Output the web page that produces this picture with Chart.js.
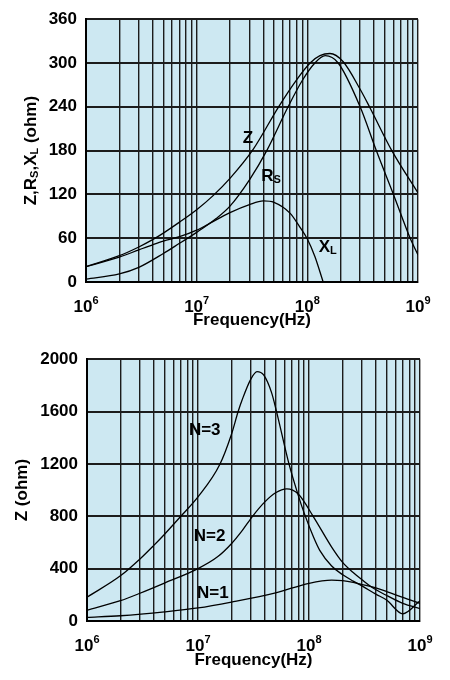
<!DOCTYPE html>
<html>
<head>
<meta charset="utf-8">
<script src="https://cdn.jsdelivr.net/npm/chart.js@4.4.0/dist/chart.umd.min.js"></script>
<style>
body { margin: 0; background: #fff; }
.box { position: absolute; left: 0; width: 450px; height: 340px; }
</style>
</head>
<body>
<div class="box" style="top:0"><canvas id="top"></canvas></div>
<div class="box" style="top:340px"><canvas id="bottom"></canvas></div>
<script>
// top chart: Z, Rs, XL vs frequency
const freqZ = [1e6, 2e6, 3e6, 4e6, 5e6, 7e6, 1e7, 1.4e7, 2e7, 3.25e7, 5.5e7, 8e7, 1.06e8, 1.3e8, 1.6e8, 2.1e8, 3e8, 3.7e8, 5.8e8, 1e9];
const valZ  = [21, 36, 48, 58, 67, 82, 99, 118, 142, 182, 240, 277, 300, 310, 313, 302, 264, 238, 180, 122];

const freqRs = [1e6, 2e6, 3e6, 5e6, 7e6, 1e7, 1.5e7, 2e7, 3e7, 4.3e7, 6.7e7, 9e7, 1.17e8, 1.45e8, 1.9e8, 3e8, 4.2e8, 6e8, 8.5e8, 1e9];
const valRs  = [4, 11, 20, 39, 53, 68, 87, 104, 140, 180, 240, 276, 300, 310, 300, 240, 180, 120, 60, 37];

const freqXL = [1e6, 2e6, 3e6, 4e6, 5e6, 7e6, 1e7, 1.3e7, 2e7, 3e7, 4e7, 5e7, 7e7, 8.5e7, 1e8, 1.17e8, 1.39e8];
const valXL  = [21, 34, 44, 51, 56, 62, 71, 80, 95, 106, 111, 109, 94, 76, 59, 35, 0];

// bottom chart: Z for N = 1, 2, 3 turns
const freqN3 = [1e6, 2e6, 3e6, 4e6, 5e6, 7e6, 1e7, 1.57e7, 2e7, 2.3e7, 2.5e7, 3e7, 3.4e7, 3.9e7, 4.6e7, 5.1e7, 6.6e7, 8e7, 9e7, 1.1e8, 1.25e8, 1.6e8, 2e8, 2.5e8, 3e8, 4e8, 5e8, 7e8, 1e9];
const valN3  = [182, 345, 474, 578, 663, 800, 948, 1195, 1425, 1600, 1690, 1850, 1905, 1880, 1745, 1600, 1200, 960, 830, 640, 540, 420, 355, 305, 268, 205, 160, 55, 155];

const freqN2 = [1e6, 2e6, 3e6, 5e6, 1e7, 1.5e7, 2e7, 2.5e7, 3.1e7, 4e7, 5e7, 6.3e7, 8e7, 1.09e8, 1.6e8, 2e8, 2.5e8, 3e8, 3.65e8, 5e8, 7e8, 1e9];
const valN2  = [82, 155, 212, 290, 400, 490, 590, 690, 800, 910, 980, 1010, 970, 800, 565, 450, 370, 315, 260, 195, 135, 95];

const freqN1 = [1e6, 2e6, 5e6, 1e7, 2e7, 5e7, 1e8, 1.6e8, 2e8, 2.5e8, 3e8, 3.65e8, 5e8, 7e8, 1e9];
const valN1  = [27, 40, 70, 100, 145, 215, 288, 312, 308, 295, 278, 262, 225, 180, 135];

const topYTicks = [0, 60, 120, 180, 240, 300, 360];
const botYTicks = [0, 400, 800, 1200, 1600, 2000];
const decadeTicks = [1e6, 1e7, 1e8, 1e9];
const decadeExp = ['6', '7', '8', '9'];

const gridFreqs = [];
for (let d = 6; d < 9; d++) {
  for (let m = 1; m < 10; m++) gridFreqs.push(m * Math.pow(10, d));
}
gridFreqs.push(1e9);

const FONT = '"Liberation Sans", Arial, sans-serif';
const SIZE = 17;

// text made of runs, sub/superscripts drawn smaller
function drawRuns(ctx, runs, x, y, size) {
  const small = Math.round(size * 0.62);
  let w = 0;
  runs.forEach(r => {
    ctx.font = 'bold ' + (r.sub || r.sup ? small : size) + 'px ' + FONT;
    w += ctx.measureText(r.t).width;
  });
  let cx = x - w / 2;
  ctx.textAlign = 'left';
  ctx.textBaseline = 'alphabetic';
  runs.forEach(r => {
    const s = r.sub || r.sup ? small : size;
    ctx.font = 'bold ' + s + 'px ' + FONT;
    const dy = r.sub ? size * 0.12 : r.sup ? -size * 0.5 : 0;
    ctx.fillText(r.t, cx, y + size * 0.36 + dy);
    cx += ctx.measureText(r.t).width;
  });
}

function makeDecor(cfg) {
  return {
    id: 'decor',
    beforeDraw(chart) {
      const a = chart.chartArea;
      const ctx = chart.ctx;
      ctx.save();
      ctx.fillStyle = '#cde8f2';
      ctx.fillRect(a.left, a.top, a.right - a.left, a.bottom - a.top);
      ctx.restore();
    },
    afterDraw(chart) {
      const {ctx, chartArea: a} = chart;
      const x = chart.scales.x, y = chart.scales.y;
      ctx.save();
      ctx.fillStyle = '#000';
      decadeTicks.forEach((v, i) => {
        drawRuns(ctx, [{t: '10'}, {t: decadeExp[i], sup: true}], x.getPixelForValue(v), a.bottom + 24, SIZE);
      });
      ctx.save();
      ctx.translate(cfg.titleX, (a.top + a.bottom) / 2);
      ctx.rotate(-Math.PI / 2);
      drawRuns(ctx, cfg.title, 0, 0, SIZE);
      ctx.restore();
      cfg.notes.forEach(n => {
        drawRuns(ctx, n.runs, x.getPixelForValue(n.f), y.getPixelForValue(n.v), SIZE);
      });
      ctx.restore();
    }
  };
}

function pts(fs, vs) {
  return fs.map((f, i) => ({x: f, y: vs[i]}));
}

function line(fs, vs) {
  return {
    data: pts(fs, vs),
    borderColor: '#000',
    borderWidth: 1.3,
    pointRadius: 0,
    fill: false,
    cubicInterpolationMode: 'monotone'
  };
}

function makeOptions(yTicks, yWidth, xHeight, pad) {
  return {
    responsive: true,
    maintainAspectRatio: false,
    animation: false,
    layout: {padding: pad},
    plugins: {legend: {display: false}, tooltip: {enabled: false}},
    scales: {
      x: {
        type: 'logarithmic',
        min: 1e6,
        max: 1e9,
        afterBuildTicks: s => { s.ticks = gridFreqs.map(v => ({value: v})); },
        afterFit: s => { s.height = xHeight; },
        ticks: {display: false},
        grid: {color: '#1c1c1c', lineWidth: 1.4, drawTicks: false},
        border: {display: true, color: '#000', width: 2},
        title: {
          display: true,
          text: 'Frequency(Hz)',
          color: '#000',
          font: {family: FONT, size: SIZE, weight: 'bold'},
          padding: {top: 0, bottom: 9}
        }
      },
      y: {
        min: yTicks[0],
        max: yTicks[yTicks.length - 1],
        afterBuildTicks: s => { s.ticks = yTicks.map(v => ({value: v})); },
        afterFit: s => { s.width = yWidth; },
        ticks: {
          color: '#000',
          padding: 9,
          font: {family: FONT, size: SIZE, weight: 'bold'},
          callback: v => String(v)
        },
        grid: {color: '#1c1c1c', lineWidth: 2, drawTicks: false},
        border: {display: true, color: '#000', width: 2}
      }
    }
  };
}

new Chart('top', {
  type: 'line',
  data: {
    datasets: [line(freqZ, valZ), line(freqRs, valRs), line(freqXL, valXL)]
  },
  options: makeOptions(topYTicks, 86, 58, {left: 0, right: 32, top: 16, bottom: 0}),
  plugins: [makeDecor({
    titleX: 30,
    title: [{t: 'Z,R'}, {t: 'S', sub: true}, {t: ',X'}, {t: 'L', sub: true}, {t: ' (ohm)'}],
    notes: [
      {runs: [{t: 'Z'}], f: 2.9e7, v: 199},
      {runs: [{t: 'R'}, {t: 'S', sub: true}], f: 4.7e7, v: 147},
      {runs: [{t: 'X'}, {t: 'L', sub: true}], f: 1.53e8, v: 50}
    ]
  })]
});

new Chart('bottom', {
  type: 'line',
  data: {
    datasets: [line(freqN3, valN3), line(freqN2, valN2), line(freqN1, valN1)]
  },
  options: makeOptions(botYTicks, 87, 59, {left: 0, right: 30, top: 15, bottom: 0}),
  plugins: [makeDecor({
    titleX: 21,
    title: [{t: 'Z (ohm)'}],
    notes: [
      {runs: [{t: 'N=3'}], f: 1.15e7, v: 1470},
      {runs: [{t: 'N=2'}], f: 1.27e7, v: 657},
      {runs: [{t: 'N=1'}], f: 1.36e7, v: 220}
    ]
  })]
});
</script>
</body>
</html>
